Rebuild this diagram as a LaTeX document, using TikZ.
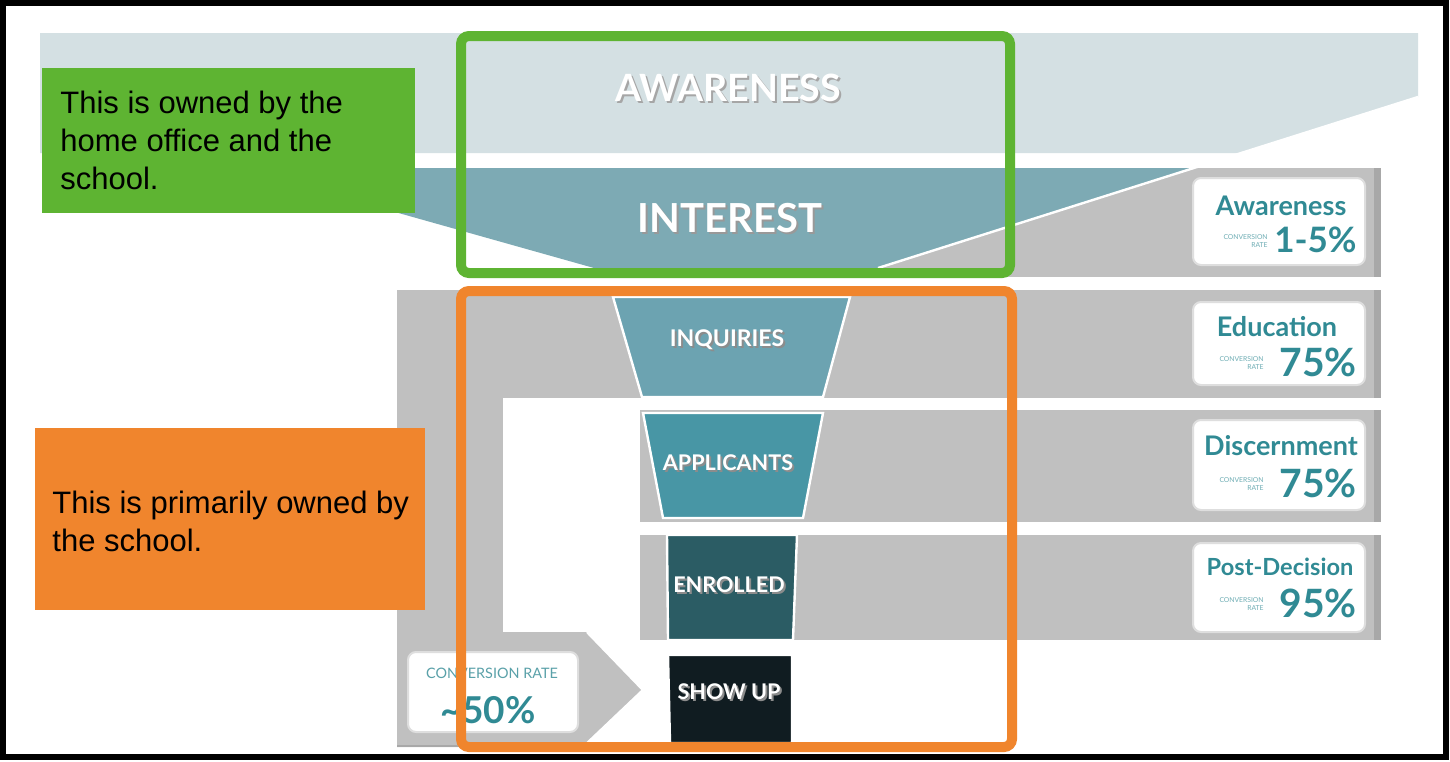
\documentclass[tikz,border=0pt]{standalone}
\usepackage{fontspec}
\setmainfont{Liberation Sans}
\newfontfamily\hf{Lato}
\definecolor{lightband}{RGB}{212,224,227}
\definecolor{interestc}{RGB}{125,170,180}
\definecolor{grayc}{RGB}{192,192,192}
\definecolor{grayedge}{RGB}{168,168,168}
\definecolor{inqc}{RGB}{108,163,177}
\definecolor{appc}{RGB}{72,150,165}
\definecolor{enrc}{RGB}{43,92,100}
\definecolor{showc}{RGB}{16,28,33}
\definecolor{tealtxt}{RGB}{48,138,148}
\definecolor{greenc}{RGB}{94,180,50}
\definecolor{orangec}{RGB}{240,133,45}
\begin{document}
\begin{tikzpicture}[x=0.5pt,y=-0.5pt,
  band/.style={fill=#1,draw=none},
  funnelseg/.style={fill=#1,draw=white,line width=1.2pt},
  flab/.style={font=\hf\bfseries\fontsize{10.8}{12}\selectfont,text=white,inner sep=0},
  fshadow/.style={font=\hf\bfseries\fontsize{10.8}{12}\selectfont,text=black!45,inner sep=0},
  ratebox/.style={fill=white,draw=black!13,line width=1pt,rounded corners=4pt},
  rtitle/.style={font=\hf\bfseries\fontsize{13.5}{14}\selectfont,text=tealtxt,inner sep=0},
  rnum/.style={font=\hf\bfseries\fontsize{19.5}{20}\selectfont,text=tealtxt,inner sep=0,anchor=east},
  rtiny/.style={font=\hf\fontsize{3.4}{3.9}\selectfont,text=tealtxt!70,inner sep=0,align=right,anchor=east},
  note/.style={font=\fontsize{15.5}{19}\selectfont,text=black,inner sep=0,align=left,anchor=west},
  owner/.style={draw=#1,line width=5pt,rounded corners=4pt}
]
\useasboundingbox (0,0) rectangle (1450,761);
\fill[white] (0,0) rectangle (1450,761);

% top band (awareness)
\fill[band=lightband] (40,33) -- (1418,33) -- (1418,97) -- (1240,153) -- (40,153) -- cycle;
% gray row behind interest
\fill[band=grayc] (878,168) rectangle (1381,277);
\fill[band=grayedge] (1374,168) rectangle (1381,277);
% interest funnel
\fill[band=interestc] (395,168) -- (1193,168) -- (878,268) -- (594,268) -- (395,212) -- cycle;
\draw[white,line width=1.2pt] (1418,97) -- (878,268);

% lower gray structure
\fill[band=grayc] (397,290) rectangle (1381,398);
\fill[band=grayc] (397,398) rectangle (503,747);
\fill[band=grayc] (397,632) -- (587,632) -- (643,690) -- (583,747) -- (397,747) -- cycle;
\fill[band=grayc] (640,410) rectangle (1381,522);
\fill[band=grayc] (640,535) rectangle (1381,640);
\fill[band=grayedge] (1374,290) rectangle (1381,398);
\fill[band=grayedge] (1374,410) rectangle (1381,522);
\fill[band=grayedge] (1374,535) rectangle (1381,640);
\draw[white,line width=1.2pt] (587,632) -- (643,690) -- (583,747);
\draw[grayedge,line width=1pt] (397,746) -- (583,746);

% funnel segments
\draw[funnelseg=inqc] (613,297) -- (850,297) -- (823,397) -- (642,397) -- cycle;
\draw[funnelseg=appc] (643,413) -- (823,413) -- (803,518) -- (663,518) -- cycle;
\draw[funnelseg=enrc] (667,535) -- (797,535) -- (793,640) -- (668,640) -- cycle;
\draw[funnelseg=showc] (668,655) -- (792,655) -- (792,743) -- (670,743) -- cycle;

% funnel labels
\node[font=\hf\bfseries\fontsize{18.8}{19}\selectfont,text=black!35,inner sep=0] at (730,90) {AWARENESS};
\node[font=\hf\bfseries\fontsize{18.8}{19}\selectfont,text=white,inner sep=0] (aw) at (728,88) {AWARENESS};
\node[font=\hf\bfseries\fontsize{20}{21}\selectfont,text=black!40,inner sep=0] at (732,220) {INTEREST};
\node[font=\hf\bfseries\fontsize{20}{21}\selectfont,text=white,inner sep=0] (int) at (730,218) {INTEREST};
\node[fshadow, font=\hf\bfseries\fontsize{11.5}{12}\selectfont] at (729,342) {INQUIRIES};
\node[flab, font=\hf\bfseries\fontsize{11.5}{12}\selectfont] (inq) at (727,340) {INQUIRIES};
\node[fshadow] at (730,465) {APPLICANTS};
\node[flab] (app) at (728,463) {APPLICANTS};
\node[fshadow] at (731,587) {ENROLLED};
\node[flab] (enr) at (729,585) {ENROLLED};
\node[fshadow] at (731,694) {SHOW UP};
\node[flab] (sho) at (729,692) {SHOW UP};

% right rate boxes
\draw[ratebox] (1193,178) rectangle (1365,265);
\node[rtitle] (t1) at (1281,206) {Awareness};
\node[rnum, font=\hf\bfseries\fontsize{17.5}{18}\selectfont] (n1) at (1357,240) {1-5\%};
\node[rtiny] at (1268,241) {CONVERSION\\RATE};

\draw[ratebox] (1193,302) rectangle (1365,385);
\node[rtitle] (t2) at (1277,327) {Education};
\node[rnum] (n2) at (1357,362) {75\%};
\node[rtiny] at (1264,363) {CONVERSION\\RATE};

\draw[ratebox] (1193,420) rectangle (1365,510);
\node[rtitle] (t3) at (1281,446) {Discernment};
\node[rnum] (n3) at (1357,483) {75\%};
\node[rtiny] at (1264,484) {CONVERSION\\RATE};

\draw[ratebox] (1193,543) rectangle (1365,632);
\node[rtitle, font=\hf\bfseries\fontsize{11.8}{13}\selectfont] (t4) at (1280,567) {Post-Decision};
\node[rnum] (n4) at (1357,603) {95\%};
\node[rtiny] at (1264,604) {CONVERSION\\RATE};

% bottom left rate box
\draw[ratebox] (408,652) rectangle (578,732);
\node[font=\hf\fontsize{7.2}{8}\selectfont,text=tealtxt!80,inner sep=0] (cr) at (492,673) {CONVERSION RATE};
\node[font=\hf\bfseries\fontsize{18.5}{19}\selectfont,text=tealtxt,inner sep=0] (n5) at (488,710) {\textasciitilde50\%};

% owner notes
\fill[greenc] (42,68) rectangle (415,213);
\node[note] (gnote) at (60,140) {This is owned by the\\home office and the\\school.};
\fill[orangec] (35,428) rectangle (425,610);
\node[note] (onote) at (52,521) {This is primarily owned by\\the school.};

% owner outlines
\draw[owner=greenc] (461,36) rectangle (1010,273);
\draw[owner=orangec] (461,291) rectangle (1012,747);

% frame
\draw[black,line width=3pt] (3,3) rectangle (1446,757);
\end{tikzpicture}
\end{document}
